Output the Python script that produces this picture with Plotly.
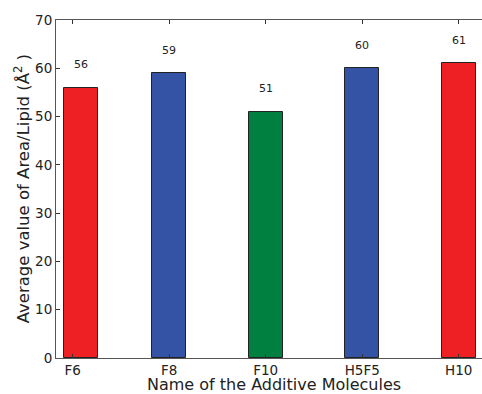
import plotly.graph_objects as go

categories = ["F6", "F8", "F10", "H5F5", "H10"]
values = [56, 59, 51, 60, 61]
colors = ["#EE2024", "#3453A5", "#008040", "#3453A5", "#EE2024"]
y_ticks = [0, 10, 20, 30, 40, 50, 60, 70]

idx = list(range(len(categories)))
bar_shift = [0.09, 0, 0, 0, 0]
bar_x = [i + s for i, s in zip(idx, bar_shift)]

font = "DejaVu Sans"
fig = go.Figure()
fig.add_trace(go.Bar(
    x=bar_x, y=values, width=0.35,
    marker=dict(color=colors, line=dict(color="#222222", width=1)),
    showlegend=False,
))
for x, v in zip(bar_x, values):
    fig.add_annotation(x=x, y=v + 3, text=str(v), showarrow=False,
                       yanchor="bottom", xanchor="center",
                       font=dict(family=font, size=11, color="#222222"))

# axis titles as annotations (placed in paper coordinates)
fig.add_annotation(text="Name of the Additive Molecules", xref="paper", yref="paper",
                   x=0.512, y=-0.079, xanchor="center", yanchor="middle", showarrow=False,
                   font=dict(family=font, size=16, color="#222222"))
fig.add_annotation(text="Average value of Area/Lipid (Å<sup>2</sup> )", xref="paper", yref="paper",
                   x=-0.079, y=0.5, xanchor="center", yanchor="middle", showarrow=False,
                   textangle=-90, font=dict(family=font, size=16.5, color="#222222"))

fig.update_layout(
    width=482, height=394,
    margin=dict(l=56, r=0, t=20, b=36),
    paper_bgcolor="white", plot_bgcolor="white",
    font=dict(family=font, color="#222222"),
    bargap=0,
)
fig.update_xaxes(
    range=[-0.173, 4.241], tickmode="array", tickvals=idx, ticktext=categories,
    ticks="inside", ticklen=4, tickcolor="#333333", showline=True, linecolor="#555555",
    linewidth=1, mirror="ticks", showgrid=False, zeroline=False,
    tickfont=dict(size=13.5),
)
fig.update_yaxes(
    range=[0, 70], tickmode="array", tickvals=y_ticks,
    ticks="inside", ticklen=4, tickcolor="#333333", showline=True, linecolor="#555555",
    linewidth=1, showgrid=False, zeroline=False,
    tickfont=dict(size=13.5),
)
fig.write_html("out.html")
